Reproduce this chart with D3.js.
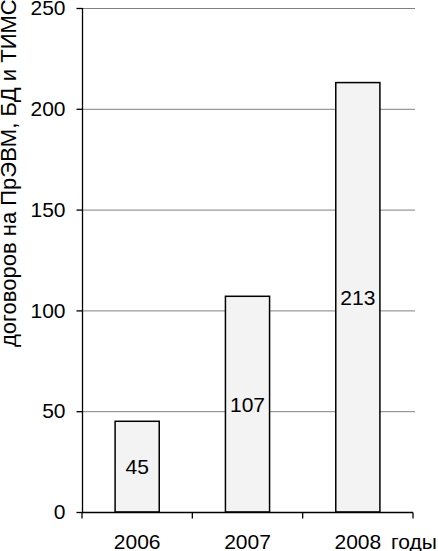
<!DOCTYPE html>
<html lang="ru">
<head>
    <meta charset="UTF-8">
    <title>Договоры</title>
    <style>
        body { margin: 0; background: #fff; }
        text { font-family: Arial, "Liberation Sans", sans-serif; fill: #000; }
        .grid line { stroke: #808080; stroke-width: 1; }
        rect.bar { fill: #f3f3f3; stroke: #000; stroke-width: 1.5; }
    </style>
</head>
<body>
    <script src="https://cdn.jsdelivr.net/npm/d3@7"></script>
    <script>

        var years = ["2006", "2007", "2008"];
        var counts = [45, 107, 213];
        var yTicks = [0, 50, 100, 150, 200, 250];

        var width = 438,
            height = 551;

        var mLeft = 82, mRight = 413, mTop = 8, mBottom = 512;
        var fs = "21px";

        var svg = d3.select("body").append("svg")
            .attr("width", width)
            .attr("height", height);

        var x = d3.scaleBand()
            .domain(years)
            .range([mLeft, mRight])
            .paddingInner(0.6)
            .paddingOuter(0.3);

        // band boundaries for ticks
        var xb = d3.scaleBand().domain(years).range([mLeft, mRight]);

        var y = d3.scaleLinear()
            .domain([0, 250])
            .range([mBottom, mTop]);

        // gridlines
        svg.append("g").attr("class", "grid")
            .selectAll("line")
            .data(yTicks.slice(1))
            .enter().append("line")
            .attr("x1", mLeft)
            .attr("x2", 415)
            .attr("y1", function(d) { return y(d) + 0.5; })
            .attr("y2", function(d) { return y(d) + 0.5; });

        // bars
        svg.selectAll("rect.bar")
            .data(counts)
            .enter().append("rect")
            .attr("class", "bar")
            .attr("x", function(d, i) { return x(years[i]); })
            .attr("y", function(d) { return y(d); })
            .attr("width", x.bandwidth())
            .attr("height", function(d) { return y(0) - y(d); });

        svg.selectAll("text.val")
            .data(counts)
            .enter().append("text")
            .attr("class", "val")
            .attr("x", function(d, i) { return x(years[i]) + x.bandwidth() / 2; })
            .attr("y", function(d) { return (y(d) + y(0)) / 2; })
            .attr("dy", "0.36em")
            .attr("text-anchor", "middle")
            .style("font-size", fs)
            .text(function(d) { return d; });

        // y axis
        var yAxis = svg.append("g")
            .attr("transform", "translate(" + (mLeft + 0.5) + ",0)")
            .call(d3.axisLeft(y).tickValues(yTicks).tickSize(6).tickPadding(11));
        yAxis.selectAll("path, line").attr("stroke", "#000").attr("stroke-width", 1.3);
        yAxis.selectAll("text").style("font-size", fs).attr("fill", "#000");
        yAxis.select(".domain").attr("d", "M0," + y(250) + "V" + y(0));

        // x axis
        var xg = svg.append("g")
            .attr("transform", "translate(0," + (mBottom + 0.5) + ")");
        xg.append("line")
            .attr("x1", mLeft).attr("x2", mRight)
            .attr("stroke", "#000").attr("stroke-width", 1.3);
        var bounds = years.map(function(d) { return xb(d); }).concat([mRight]);
        xg.selectAll("line.tick")
            .data(bounds)
            .enter().append("line")
            .attr("class", "tick")
            .attr("x1", function(d) { return d; })
            .attr("x2", function(d) { return d; })
            .attr("y1", 0).attr("y2", 6)
            .attr("stroke", "#000").attr("stroke-width", 1.3);
        xg.selectAll("text.year")
            .data(years)
            .enter().append("text")
            .attr("class", "year")
            .attr("x", function(d) { return xb(d) + xb.bandwidth() / 2; })
            .attr("y", 36)
            .attr("text-anchor", "middle")
            .style("font-size", fs)
            .text(function(d) { return d; });
        xg.append("text")
            .attr("x", 391)
            .attr("y", 36)
            .style("font-size", fs)
            .text("годы");

        // y label
        svg.append("text")
            .attr("transform", "translate(16,347) rotate(-90)")
            .style("font-size", "22px")
            .text("договоров на ПрЭВМ, БД и ТИМС");

    </script>
</body>
</html>
